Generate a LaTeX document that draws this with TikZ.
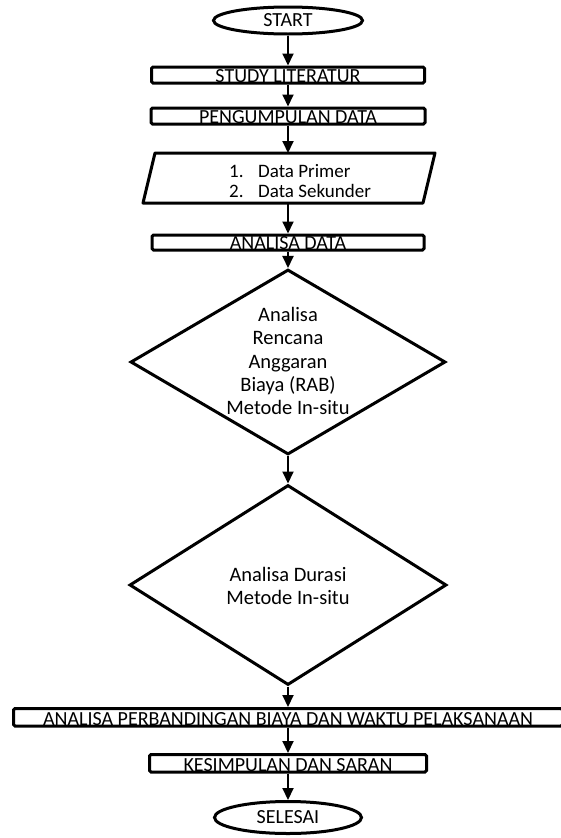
\documentclass[tikz,border=0pt]{standalone}
\usepackage{fontspec}
\setmainfont{Carlito}
\usetikzlibrary{shapes.geometric,arrows.meta}
\tikzset{
  boxtxt/.style={draw, line width=3pt, rounded corners=1.5pt, inner ysep=0pt, inner xsep=0pt,
    text depth=0.5pt, anchor=base, font=\fontsize{20}{22}\selectfont},
  term/.style={draw, ellipse, line width=3pt, inner sep=0pt, font=\fontsize{20}{22}\selectfont},
  decis/.style={draw, diamond, line width=3pt, inner sep=2pt},
  dectxt/.style={align=center, inner sep=0pt, font=\fontsize{20.5}{23.3}\selectfont},
  ioframe/.style={line width=3pt, line join=round},
  iotxt/.style={align=left, inner sep=0pt, font=\fontsize{19}{20.5}\selectfont},
  arr/.style={line width=2pt, -{Triangle[width=11pt,length=12pt]}}
}
\begin{document}
\begin{tikzpicture}[x=1pt,y=-1pt]
\useasboundingbox (0,0) rectangle (560,838);
\node[term, minimum width=149pt, minimum height=27pt] (start) at (288,20.5) {START};
\node[boxtxt, minimum width=273pt, text height=15.5pt] (study) at (288,82.5) {STUDY LITERATUR};
\node[boxtxt, minimum width=274pt, text height=15.5pt] (peng) at (288,123.5) {PENGUMPULAN DATA};
\node[inner sep=0pt, outer sep=1.5pt, minimum width=289pt, minimum height=47pt] (data) at (289,178) {};
\draw[ioframe] ([xshift=12pt]data.north west) -- (data.north east)
  -- ([xshift=-12pt]data.south east) -- (data.south west) -- cycle;
\node[iotxt, anchor=west] (datatxt) at (229,181)
  {\makebox[29pt][l]{1.}Data Primer\\\makebox[29pt][l]{2.}Data Sekunder};
\node[boxtxt, minimum width=272pt, text height=14.5pt] (anal) at (288,249.5) {ANALISA DATA};
\node[decis, minimum width=315pt, minimum height=185pt] (rab) at (288,362) {\strut};
\node[dectxt] (rabtxt) at (288,361)
  {Analisa\\Rencana\\Anggaran\\Biaya (RAB)\\Metode In-situ};
\node[decis, minimum width=317pt, minimum height=200pt] (dur) at (288,585) {\strut};
\node[dectxt] (durtxt) at (288,586) {Analisa Durasi\\Metode In-situ};
\node[boxtxt, minimum width=549pt, text height=17pt] (banding) at (288,725.5)
  {ANALISA PERBANDINGAN BIAYA DAN WAKTU PELAKSANAAN};
\node[boxtxt, minimum width=277pt, text height=17pt] (simpul) at (288,771.5) {KESIMPULAN DAN SARAN};
\node[term, minimum width=147pt, minimum height=32pt] (selesai) at (288,817.5) {SELESAI};
\draw[arr] (start) -- (study);
\draw[arr] (study) -- (peng);
\draw[arr] (peng.south) -- (peng.south |- data.north);
\draw[arr] (data.south -| anal.north) -- (anal.north);
\draw[arr] (anal) -- (rab);
\draw[arr] (rab) -- (dur);
\draw[arr] (dur) -- (banding);
\draw[arr] (banding) -- (simpul);
\draw[arr] (simpul) -- (selesai);
\end{tikzpicture}
\end{document}
